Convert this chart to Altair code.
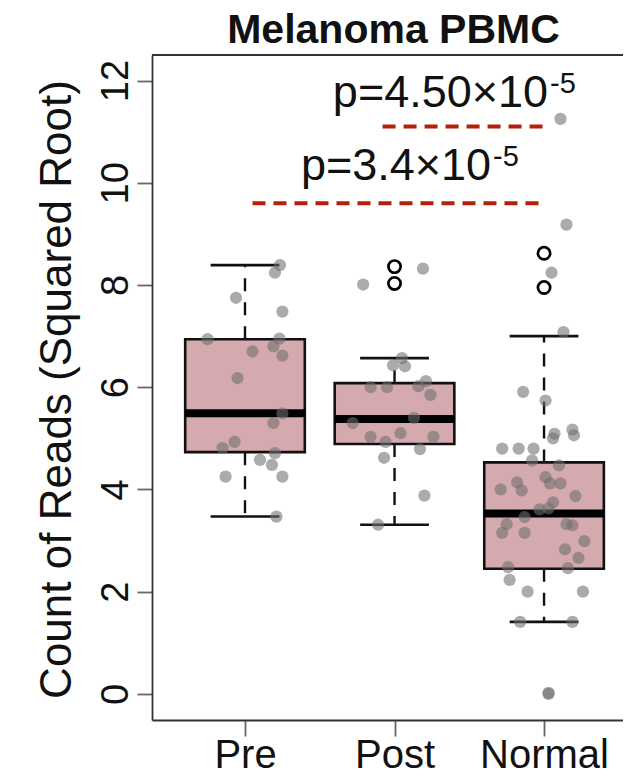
import altair as alt
import pandas as pd

# ---------------- data ----------------
categories = ["Pre", "Post", "Normal"]

# jittered point positions (group index + jitter) and values
pre_x = [1.234, 1.20, 0.94, 1.25, 0.75, 1.23, 1.05, 1.19, 1.25, 0.95,
         1.25, 1.19, 0.93, 0.85, 1.20, 1.10, 1.18, 0.87, 1.25, 1.21]
pre_y = [8.39, 8.24, 7.75, 7.48, 6.94, 6.95, 6.70, 6.80, 6.62, 6.18,
         5.49, 5.30, 4.93, 4.81, 4.71, 4.58, 4.48, 4.25, 4.25, 3.47]

post_x = [2.19, 1.79, 2.05, 1.99, 2.07, 1.84, 1.95, 2.16, 2.21, 2.24,
          1.72, 2.13, 1.84, 1.94, 2.04, 2.26, 2.17, 1.93, 2.20, 1.89]
post_y = [8.32, 8.01, 6.57, 6.43, 6.41, 6.00, 6.00, 6.02, 6.12, 5.85,
          5.30, 5.40, 5.03, 4.93, 5.10, 5.03, 4.79, 4.62, 3.88, 3.31]

normal_x = [3.11, 3.15, 3.05, 3.13, 2.86, 3.01, 3.07, 3.19, 3.06, 3.20,
            2.72, 2.83, 2.93, 2.92, 3.10, 2.82, 2.85, 2.71, 3.01, 3.04,
            3.11, 3.21, 3.06, 2.97, 3.03, 2.87, 2.75, 2.72, 2.87, 3.15,
            3.19, 3.27, 3.14, 3.23, 3.16, 2.76, 2.77, 2.89, 3.26, 2.84,
            3.19, 3.03, 3.03]
normal_y = [11.25, 9.18, 8.24, 7.08, 5.91, 5.74, 5.09, 5.17, 5.00, 5.06,
            4.80, 4.80, 4.80, 4.57, 4.47, 4.14, 3.98, 4.00, 4.24, 4.12,
            4.12, 3.87, 3.75, 3.61, 3.63, 3.46, 3.32, 3.15, 3.15, 3.32,
            3.30, 2.99, 2.83, 2.66, 2.46, 2.48, 2.23, 2.00, 2.00, 1.41,
            1.41, 0.02, 0.00]

# box statistics (per category)
box_q1 = [4.73, 4.89, 2.45]
box_median = [5.49, 5.38, 3.53]
box_q3 = [6.94, 6.08, 4.53]
whisker_low = [3.47, 3.31, 1.41]
whisker_high = [8.39, 6.57, 7.00]

# outliers drawn by the boxplot (open circles)
outlier_group = [2, 2, 3, 3]
outlier_y = [8.36, 8.03, 8.62, 7.95]

# significance annotations
sig_x_start = [1.92, 1.05]
sig_x_end = [2.99, 2.99]
sig_y = [11.10, 9.60]
sig_text = ["p=4.50\u00d710", "p=3.4\u00d710"]
sig_sup = ["-5", "-5"]
sig_text_x = [3.027, 2.646]
sig_text_y = [11.49, 10.05]

title_text = "Melanoma PBMC"
y_title = "Count of Reads (Squared Root)"
y_ticks = [0, 2, 4, 6, 8, 10, 12]

# ---------------- layout / style ----------------
X_MIN, X_MAX = 0.378, 3.528
Y_MIN, Y_MAX = -0.51, 12.50
W, H = 471, 665
BOX_HALF = 0.4
CAP_HALF = 0.23
FONT = "Liberation Sans"

pos = list(range(1, len(categories) + 1))
boxes = pd.DataFrame({
    "pos": pos,
    "lo": [p - BOX_HALF for p in pos],
    "hi": [p + BOX_HALF for p in pos],
    "clo": [p - CAP_HALF for p in pos],
    "chi": [p + CAP_HALF for p in pos],
    "q1": box_q1, "med": box_median, "q3": box_q3,
    "wl": whisker_low, "wh": whisker_high,
})
points = pd.DataFrame({
    "x": pre_x + post_x + normal_x,
    "y": pre_y + post_y + normal_y,
})
outliers = pd.DataFrame({"x": outlier_group, "y": outlier_y})
sig = pd.DataFrame({"x0": sig_x_start, "x1": sig_x_end, "y": sig_y,
                    "tx": sig_text_x, "ty": sig_text_y,
                    "t": sig_text, "s": sig_sup})
frame = pd.DataFrame({"x0": [X_MIN], "x1": [X_MAX], "y": [Y_MAX]})

label_expr = "[" + ",".join("'%s'" % c for c in categories) + "][round(datum.value)-1]"

xscale = alt.Scale(domain=[X_MIN, X_MAX], nice=False, zero=False)
yscale = alt.Scale(domain=[Y_MIN, Y_MAX], nice=False, zero=False)

xaxis = alt.Axis(values=pos, labelExpr=label_expr, title=None, grid=False,
                 tickSize=16, tickColor="#666666", tickWidth=1.8,
                 domainColor="#333333", domainWidth=1.8,
                 labelFont=FONT, labelFontSize=40, labelColor="#111111",
                 labelBaseline="alphabetic", labelPadding=31, labelFlush=False)
yaxis = alt.Axis(values=y_ticks, title=y_title, grid=False,
                 tickSize=15, tickColor="#666666", tickWidth=1.8,
                 domainColor="#333333", domainWidth=1.8,
                 labelFont=FONT, labelFontSize=38, labelColor="#111111",
                 labelAngle=-90, labelAlign="center", labelBaseline="alphabetic",
                 labelPadding=10,
                 titleFont=FONT, titleFontSize=44, titleFontWeight="normal",
                 titleColor="#111111", titleAngle=-90, titleAlign="center",
                 titleBaseline="alphabetic", titleX=-82, titleY=334)

X = lambda f: alt.X(f, type="quantitative", scale=xscale, axis=xaxis)
Y = lambda f: alt.Y(f, type="quantitative", scale=yscale, axis=yaxis)

box_layer = alt.Chart(boxes).mark_rect(
    fill="#d5aaae", stroke="#111111", strokeWidth=2.6
).encode(x=X("lo"), x2="hi", y=Y("q1"), y2="q3")

whisk_hi = alt.Chart(boxes).mark_rule(
    color="#111111", strokeWidth=2.4, strokeDash=[13, 11]
).encode(x=X("pos"), y=Y("q3"), y2="wh")
whisk_lo = alt.Chart(boxes).mark_rule(
    color="#111111", strokeWidth=2.4, strokeDash=[13, 11]
).encode(x=X("pos"), y=Y("q1"), y2="wl")
cap_hi = alt.Chart(boxes).mark_rule(color="#111111", strokeWidth=2.6).encode(
    x=X("clo"), x2="chi", y=Y("wh"))
cap_lo = alt.Chart(boxes).mark_rule(color="#111111", strokeWidth=2.6).encode(
    x=X("clo"), x2="chi", y=Y("wl"))
median = alt.Chart(boxes).mark_rule(color="#000000", strokeWidth=8).encode(
    x=X("lo"), x2="hi", y=Y("med"))

out_layer = alt.Chart(outliers).mark_point(
    shape="circle", filled=False, color="#000000", strokeWidth=2.7, size=150, opacity=1
).encode(x=X("x"), y=Y("y"))

pt_layer = alt.Chart(points).mark_circle(
    color="#6e6e6e", opacity=0.58, size=150
).encode(x=X("x"), y=Y("y"))

sig_lines = alt.Chart(sig).mark_rule(
    color="#b5200c", strokeWidth=4, strokeDash=[13, 8]
).encode(x=X("x0"), x2="x1", y=Y("y"))
sig_base = alt.Chart(sig).mark_text(
    font=FONT, fontSize=45, align="right", baseline="alphabetic", color="#111111"
).encode(x=X("tx"), y=Y("ty"), text="t")
sig_sup_layer = alt.Chart(sig).mark_text(
    font=FONT, fontSize=29, align="left", baseline="alphabetic", color="#111111",
    dx=2, dy=-14
).encode(x=X("tx"), y=Y("ty"), text="s")

top_line = alt.Chart(frame).mark_rule(color="#333333", strokeWidth=1.8).encode(
    x=X("x0"), x2="x1", y=Y("y"))

chart = alt.layer(
    box_layer, whisk_hi, whisk_lo, cap_hi, cap_lo, median, out_layer,
    pt_layer, sig_lines, sig_base, sig_sup_layer, top_line
).properties(
    width=W, height=H,
    title=alt.Title(title_text, font=FONT, fontSize=41, fontWeight="bold",
                    color="#111111", anchor="middle", frame="group",
                    orient="top", offset=2, dx=6),
    autosize=alt.AutoSizeParams(type="none"),
    padding={"left": 144, "top": 47, "right": 0, "bottom": 56},
).configure_view(stroke=None).configure(background="white")

chart.save("out.html", embed_options={"renderer": "svg", "actions": False})
